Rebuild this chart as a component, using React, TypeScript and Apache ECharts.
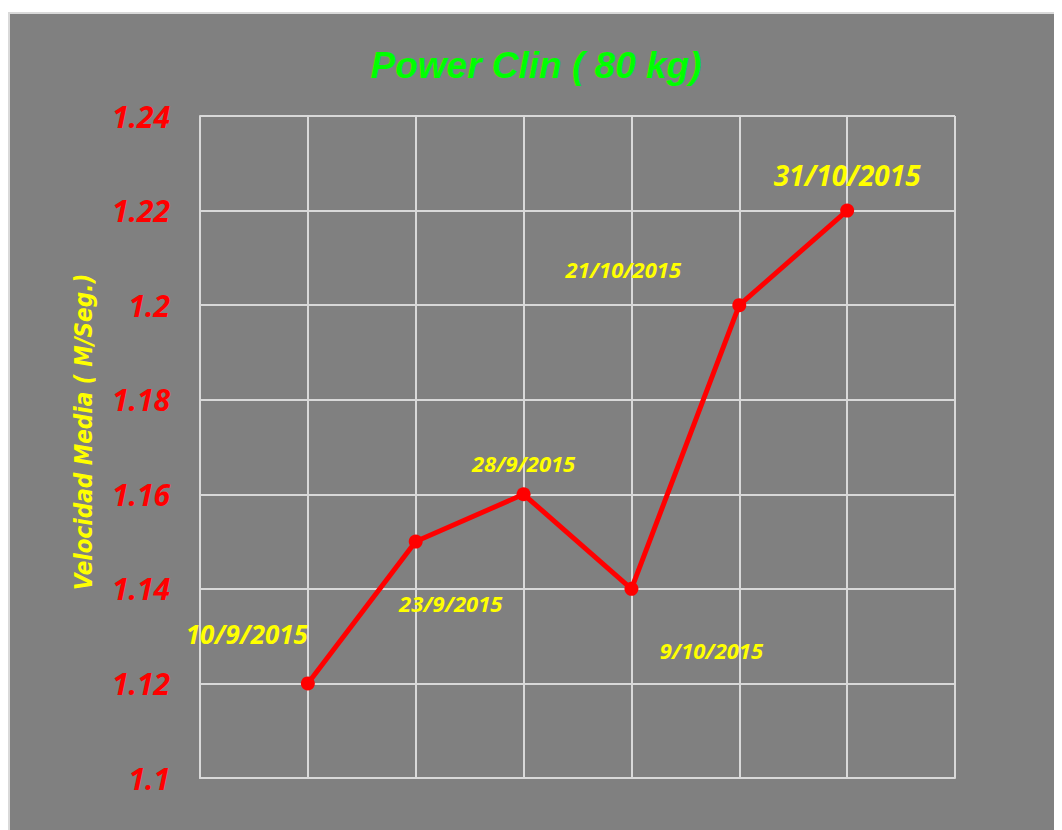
import React, { useEffect, useRef } from "react";
import * as echarts from "echarts";

const categories = ["", "10/9/2015", "23/9/2015", "28/9/2015", "9/10/2015", "21/10/2015", "31/10/2015", ""];
const velocities = [null, 1.12, 1.15, 1.16, 1.14, 1.2, 1.22, null];
const labelOffsets: ([number, number] | null)[] = [null, [-61, -49], [35, 61], [0, -31], [80, 61], [-116, -36], [0, -36]];
const labelSizes = [0, 26, 22, 22, 22, 22, 28];
const yTicks = { min: 1.1, max: 1.24, interval: 0.02 };

const titleText = "Power Clin ( 80 kg)";
const yName = "Velocidad Media ( M/Seg.)";

export default function App() {
  const ref = useRef<HTMLDivElement>(null);
  useEffect(() => {
    if (!ref.current) return;
    const chart = echarts.init(ref.current, undefined, { renderer: "svg" });
    const narrow = "'DejaVu Sans Condensed', 'Liberation Sans Narrow', sans-serif";
    const labelFont = "'Open Sans', 'Liberation Sans', sans-serif";
    chart.setOption({
      animation: false,
      backgroundColor: "#808080",
      title: {
        text: titleText,
        left: "center",
        top: 28,
        textStyle: { color: "#00ff00", fontSize: 37, fontWeight: "bold", fontStyle: "italic", fontFamily: "'Liberation Sans', sans-serif" },
      },
      grid: { left: 190, top: 102, right: 107, bottom: 52 },
      xAxis: {
        type: "category",
        data: categories,
        boundaryGap: false,
        axisLabel: { show: false },
        axisTick: { show: false },
        axisLine: { show: true, lineStyle: { color: "#d9d9d9", width: 2 } },
        splitLine: { show: true, lineStyle: { color: "#d9d9d9", width: 2 } },
      },
      yAxis: {
        type: "value",
        min: yTicks.min,
        max: yTicks.max,
        interval: yTicks.interval,
        name: yName,
        nameLocation: "middle",
        nameRotate: 90,
        nameGap: 104,
        nameTextStyle: { color: "#ffff00", fontSize: 24, fontWeight: "bold", fontStyle: "italic", fontFamily: narrow, padding: [0, 0, 0, 30] },
        axisLabel: {
          color: "#ff0000",
          fontSize: 30,
          fontWeight: "bold",
          fontStyle: "italic",
          fontFamily: labelFont,
          margin: 30,
          formatter: (v: number) => String(parseFloat(v.toFixed(2))),
        },
        axisTick: { show: false },
        axisLine: { show: true, lineStyle: { color: "#d9d9d9", width: 2 } },
        splitLine: { show: true, lineStyle: { color: "#d9d9d9", width: 2 } },
      },
      series: [
        {
          type: "line",
          data: velocities.map((v, i) =>
            v === null
              ? null
              : {
                  value: v,
                  label: {
                    show: true,
                    position: "inside",
                    offset: labelOffsets[i],
                    formatter: categories[i],
                    color: "#ffff00",
                    fontSize: labelSizes[i],
                    fontWeight: "bold",
                    fontStyle: "italic",
                    fontFamily: labelFont,
                  },
                }
          ),
          connectNulls: false,
          symbol: "circle",
          symbolSize: 14,
          lineStyle: { color: "#ff0000", width: 5 },
          itemStyle: { color: "#ff0000" },
        },
      ],
    });
    return () => chart.dispose();
  }, []);
  return (
    <div
      ref={ref}
      style={{
        width: 1052,
        height: 816,
        marginTop: 4,
        borderLeft: "2px solid #d9d9d9",
        borderTop: "2px solid #d9d9d9",
      }}
    />
  );
}
